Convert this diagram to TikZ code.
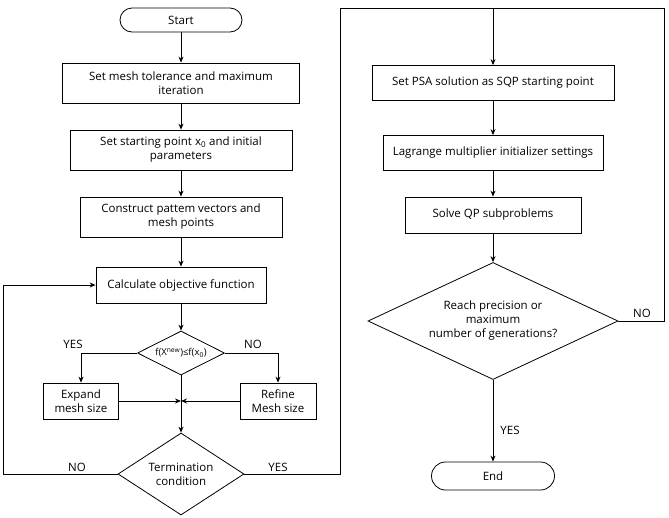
\documentclass[tikz,border=0pt]{standalone}
\usepackage{fontspec}
\setmainfont{Open Sans}
\usetikzlibrary{shapes.geometric,arrows.meta}
\begin{document}
\begin{tikzpicture}[x=1pt,y=-1pt,line width=0.8pt,
  box/.style={draw,align=center,font=\fontsize{11.5}{14}\selectfont,inner sep=2pt},
  dia/.style={draw,diamond,aspect=2,inner sep=0pt,font=\fontsize{11.5}{14}\selectfont,align=center},
  arr/.style={-{Stealth[length=6pt,width=5pt]}},
  lab/.style={font=\fontsize{11.5}{14}\selectfont}]
\useasboundingbox (0,0) rectangle (669,517);
\node[box,rounded corners=12pt,minimum width=122pt,minimum height=24pt] (start) at (181,20) {Start};
\node[box,minimum width=237pt,minimum height=40pt] (b1) at (181,83) {Set mesh tolerance and maximum\\iteration};
\node[box,minimum width=222pt,minimum height=40pt] (b2) at (181,150) {Set starting point x\textsubscript{0} and initial\\parameters};
\node[box,minimum width=202pt,minimum height=40pt] (b3) at (181,217) {Construct pattem vectors and\\mesh points};
\node[box,minimum width=170pt,minimum height=36pt] (b4) at (181,285) {Calculate objective function};
\node[dia,minimum width=87pt,minimum height=44pt,font=\fontsize{9.5}{11}\selectfont] (d1) at (181,353) {f(X\textsuperscript{new})≤f(x\textsubscript{0})};
\node[box,minimum width=75pt,minimum height=36pt] (ex) at (81,401) {Expand\\mesh size};
\node[box,minimum width=76pt,minimum height=36pt] (rf) at (278,401) {Refine\\Mesh size};
\coordinate (j) at (181,401);
\node[dia,minimum width=126pt,minimum height=82pt] (d2) at (181,474) {Termination\\condition};
\node[box,minimum width=242pt,minimum height=35pt] (r1) at (493,83) {Set PSA solution as SQP starting point};
\node[box,minimum width=220pt,minimum height=35pt] (r2) at (493,153) {Lagrange multiplier initializer settings};
\node[box,minimum width=176pt,minimum height=36pt] (r3) at (493,215) {Solve QP subproblems};
\node[dia,minimum width=250pt,minimum height=117pt] (d3) at (493,321) {Reach precision or\\maximum\\number of generations?};
\node[box,rounded corners=14pt,minimum width=123pt,minimum height=28pt] (end) at (493,476) {End};
\coordinate (tl) at (340,8);
\coordinate (tr) at (664,8);
\coordinate (tm) at (493,8);
\coordinate (bl) at (3,474);
\draw[arr] (start) -- (b1);
\draw[arr] (b1) -- (b2);
\draw[arr] (b2) -- (b3);
\draw[arr] (b3) -- (b4);
\draw[arr] (b4) -- (d1);
\draw[arr] (d1.west) -| (ex.north);
\draw[arr] (d1.east) -| (rf.north);
\draw[arr] (ex.east) -- (j);
\draw[arr] (rf.west) -- (j);
\draw (d1.south) -- (j);
\draw[arr] (j) -- (d2.north);
\draw[arr] (d2.west) -- (bl) |- (b4.west);
\draw (d2.east) -| (tl) -- (tm);
\draw[arr] (tm) -- (r1.north);
\draw[arr] (r1) -- (r2);
\draw[arr] (r2) -- (r3);
\draw[arr] (r3) -- (d3.north);
\draw (d3.east) -| (tr) -- (tm);
\draw[arr] (d3.south) -- (end.north);
\node[lab] (l1) at (73,344) {YES};
\node[lab] (l2) at (253,344) {NO};
\node[lab] (l3) at (77,467) {NO};
\node[lab] (l4) at (278,467) {YES};
\node[lab] (l5) at (642,313) {NO};
\node[lab] (l6) at (510,430) {YES};
\end{tikzpicture}
\end{document}
